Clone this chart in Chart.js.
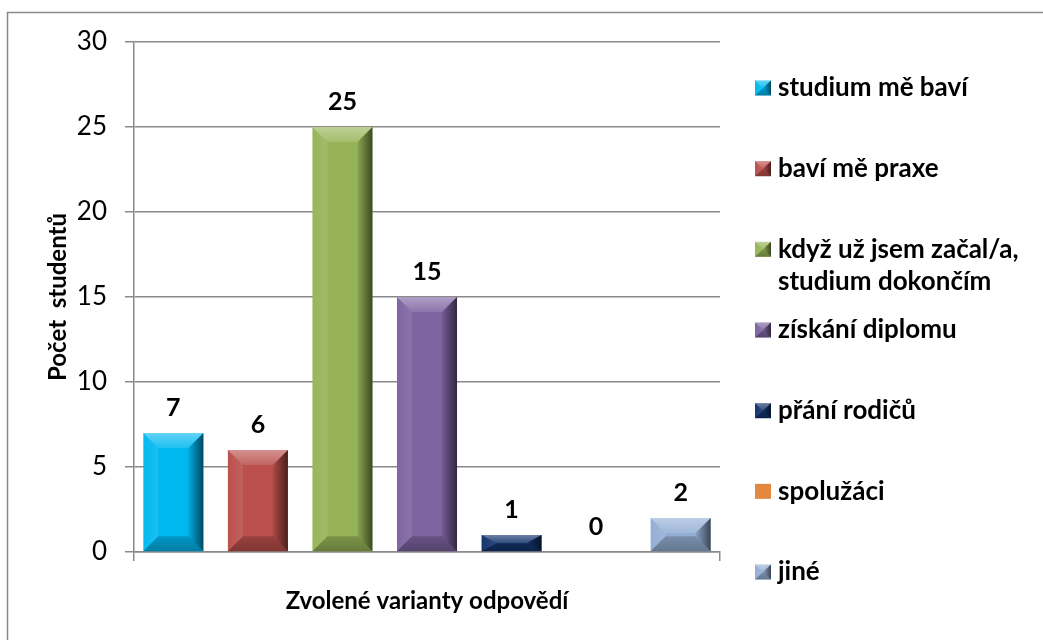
<!DOCTYPE html>
<html>
<head>
<meta charset="utf-8">
<script src="https://cdn.jsdelivr.net/npm/chart.js@4.4.1/dist/chart.umd.min.js"></script>
<style>
  html, body { margin: 0; padding: 0; background: #ffffff; overflow: hidden; }
  #wrap { width: 1043px; height: 640px; }
</style>
</head>
<body>
<div id="wrap"><canvas id="c" width="1043" height="640"></canvas></div>
<script>
// ---- data ----
const categories = [''];
const seriesNames = [
  'studium mě baví',
  'baví mě praxe',
  'když už jsem začal/a,\nstudium dokončím',
  'získání diplomu',
  'přání rodičů',
  'spolužáci',
  'jiné'
];
const values = [7, 6, 25, 15, 1, 0, 2];
const seriesColors = ['#00B8F0', '#BA4F4B', '#96B457', '#7D63A0', '#13336B', '#E3883E', '#93AED4'];
const yAxisMin = 0;
const yAxisMax = 30;
const yAxisStep = 5;
const yTitle = 'Počet  studentů';
const xTitle = 'Zvolené varianty odpovědí';

// ---- styling helpers ----
const FONT = 'Lato, "Liberation Sans", sans-serif';
const AXIS_GRAY = '#8a8a8a';

function poly(ctx, pts, fill) {
  ctx.beginPath();
  ctx.moveTo(pts[0][0], pts[0][1]);
  for (let i = 1; i < pts.length; i++) ctx.lineTo(pts[i][0], pts[i][1]);
  ctx.closePath();
  ctx.fillStyle = fill;
  ctx.fill();
}

function bevel(ctx, x0, y0, x1, y1, b) {
  const h = y1 - y0, w = x1 - x0;
  if (h <= 0 || w <= 0) return;
  const bv = Math.min(b, h / 2), bh = Math.min(b, w / 2);
  // top
  let g = ctx.createLinearGradient(0, y0, 0, y0 + bv);
  g.addColorStop(0, 'rgba(255,255,255,0.38)');
  g.addColorStop(1, 'rgba(255,255,255,0.12)');
  poly(ctx, [[x0, y0], [x1, y0], [x1 - bh, y0 + bv], [x0 + bh, y0 + bv]], g);
  // left
  g = ctx.createLinearGradient(x0, 0, x0 + bh, 0);
  g.addColorStop(0, 'rgba(255,255,255,0.02)');
  g.addColorStop(1, 'rgba(255,255,255,0.10)');
  poly(ctx, [[x0, y0], [x0 + bh, y0 + bv], [x0 + bh, y1 - bv], [x0, y1]], g);
  // right
  g = ctx.createLinearGradient(x1 - bh, 0, x1, 0);
  g.addColorStop(0, 'rgba(0,0,0,0.08)');
  g.addColorStop(1, 'rgba(0,0,0,0.6)');
  poly(ctx, [[x1, y0], [x1, y1], [x1 - bh, y1 - bv], [x1 - bh, y0 + bv]], g);
  // bottom
  g = ctx.createLinearGradient(0, y1 - bv, 0, y1);
  g.addColorStop(0, 'rgba(0,0,0,0.18)');
  g.addColorStop(1, 'rgba(0,0,0,0.32)');
  poly(ctx, [[x0, y1], [x1, y1], [x1 - bh, y1 - bv], [x0 + bh, y1 - bv]], g);
}

const decorPlugin = {
  id: 'decor',
  beforeDraw(chart) {
    const ctx = chart.ctx;
    ctx.save();
    ctx.strokeStyle = AXIS_GRAY;
    ctx.lineWidth = 1.5;
    ctx.beginPath();
    ctx.moveTo(7.5, 640);
    ctx.lineTo(7.5, 12.5);
    ctx.lineTo(1043, 12.5);
    ctx.stroke();
    ctx.restore();
  },
  afterDatasetsDraw(chart) {
    const ctx = chart.ctx;
    ctx.save();
    chart.data.datasets.forEach((ds, i) => {
      const meta = chart.getDatasetMeta(i);
      meta.data.forEach((bar, j) => {
        const p = bar.getProps(['x', 'y', 'base', 'width'], true);
        const top = Math.min(p.y, p.base), bottom = Math.max(p.y, p.base);
        bevel(ctx, p.x - p.width / 2, top, p.x + p.width / 2, bottom, 15);
        ctx.fillStyle = '#000';
        ctx.font = 'bold 25px ' + FONT;
        ctx.textAlign = 'center';
        ctx.textBaseline = 'middle';
        ctx.fillText(String(ds.data[j]), p.x, top - 25);
      });
    });
    ctx.restore();
  },
  afterDraw(chart) {
    const ctx = chart.ctx;
    ctx.save();
    const firstCenter = 88, step = 80.67;
    ctx.font = 'bold 26px ' + FONT;
    ctx.textAlign = 'left';
    ctx.textBaseline = 'middle';
    seriesNames.forEach((name, i) => {
      const cy = firstCenter + i * step;
      const lines = name.split('\n');
      const bx = 755, by = cy - 7.5;
      ctx.fillStyle = seriesColors[i];
      ctx.fillRect(bx, by, 16, 15);
      if (values[i] > 0) bevel(ctx, bx, by, bx + 16, by + 15, 8);
      ctx.fillStyle = '#000';
      lines.forEach((ln, k) => ctx.fillText(ln, 778, cy + k * 32));
    });
    ctx.restore();
  }
};

const datasets = seriesNames.map((name, i) => ({
  label: name.replace('\n', ' '),
  data: [values[i]],
  backgroundColor: seriesColors[i],
  borderWidth: 0
}));

new Chart(document.getElementById('c'), {
  type: 'bar',
  data: { labels: categories, datasets },
  options: {
    responsive: false,
    animation: false,
    devicePixelRatio: 1,
    layout: { padding: { top: 42, right: 323, bottom: 0, left: 0 } },
    datasets: { bar: { categoryPercentage: 1.01, barPercentage: 0.71 } },
    plugins: { legend: { display: false }, tooltip: { enabled: false } },
    scales: {
      x: {
        type: 'category',
        offset: true,
        grid: { display: true, offset: true, drawOnChartArea: false, drawTicks: true, tickLength: 9, color: AXIS_GRAY, lineWidth: 1.5 },
        border: { display: true, color: AXIS_GRAY, width: 1.5 },
        ticks: { display: true, padding: 0, font: { family: FONT, size: 12 } },
        title: { display: true, text: xTitle, color: '#000', font: { family: FONT, size: 24, weight: 'bold' }, padding: { top: 0, bottom: 24 } },
        afterFit(s) { s.height = 88; }
      },
      y: {
        min: yAxisMin,
        max: yAxisMax,
        ticks: { stepSize: yAxisStep, color: '#000', padding: 18, font: { family: FONT, size: 26 } },
        grid: { color: AXIS_GRAY, lineWidth: 1.5, tickLength: 9, drawTicks: true },
        border: { display: true, color: AXIS_GRAY, width: 1.5 },
        title: { display: true, text: yTitle, color: '#000', font: { family: FONT, size: 24, weight: 'bold' }, padding: { top: 44, bottom: 0 } },
        afterFit(s) { s.width = 134; }
      }
    }
  },
  plugins: [decorPlugin]
});
</script>
</body>
</html>
